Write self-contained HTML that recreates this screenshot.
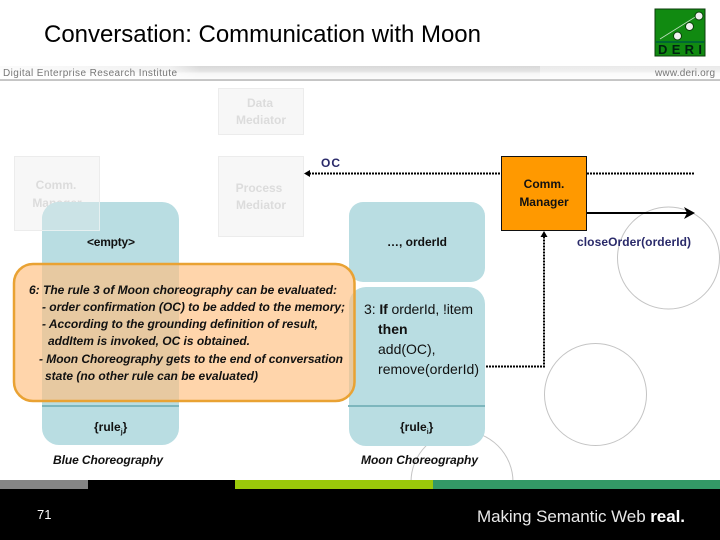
<!DOCTYPE html>
<html><head><meta charset="utf-8"><style>
html,body{margin:0;padding:0;background:#fff}
svg{display:block}
text{font-family:"Liberation Sans",sans-serif}
</style></head><body>
<svg width="720" height="540" viewBox="0 0 720 540" xmlns="http://www.w3.org/2000/svg">
<defs>
<linearGradient id="band" x1="0" y1="0" x2="0" y2="1">
<stop offset="0" stop-color="#d8d8d8"/><stop offset=".35" stop-color="#e4e4e4"/><stop offset=".5" stop-color="#f6f6f6"/><stop offset=".85" stop-color="#fbfbfb"/><stop offset=".93" stop-color="#aaa"/><stop offset="1" stop-color="#ddd"/>
</linearGradient>
<linearGradient id="fadeL" x1="0" y1="0" x2="1" y2="0"><stop offset="0" stop-color="#fff" stop-opacity=".9"/><stop offset=".85" stop-color="#fff" stop-opacity=".6"/><stop offset="1" stop-color="#fff" stop-opacity="0"/></linearGradient>
</defs>
<rect width="720" height="540" fill="#fff"/>
<text x="44" y="42" font-size="24" fill="#000" textLength="437" lengthAdjust="spacing">Conversation: Communication with Moon</text>

<rect x="655" y="9" width="50" height="47" fill="#118a11" stroke="#0b3d0b" stroke-width="1"/>
<path d="M660 39L700 14" stroke="#bfe0bf" stroke-width=".8"/>
<circle cx="677.500" cy="36" r="4" fill="#f2f2f2" stroke="#0a400a"/><circle cx="689.500" cy="26.500" r="4" fill="#f2f2f2" stroke="#0a400a"/><circle cx="699" cy="16" r="4" fill="#f2f2f2" stroke="#0a400a"/>
<rect x="656" y="41" width="48" height="2" fill="#063"/>
<text x="658" y="54" font-size="13" font-weight="bold" fill="#021" textLength="44">DERI</text>

<rect x="0" y="66" width="720" height="15" fill="url(#band)"/>
<rect x="0" y="66" width="200" height="13" fill="url(#fadeL)"/>
<rect x="540" y="66" width="180" height="13" fill="#fff" opacity=".45"/>
<text x="3" y="76" font-size="10" fill="#777" textLength="174">Digital Enterprise Research Institute</text>
<text x="655" y="76" font-size="10" fill="#777" textLength="60">www.deri.org</text>

<g fill="#f7f7f7" stroke="#ececec">
<rect x="218.500" y="88.500" width="85" height="46"/>
<rect x="14.500" y="156.500" width="85" height="74"/>
<rect x="218.500" y="156.500" width="85" height="80"/>
</g>
<g font-size="12" font-weight="bold" fill="#dcdcdc" text-anchor="middle">
<text x="260" y="107">Data</text><text x="261" y="124">Mediator</text>
<text x="56" y="189">Comm.</text><text x="57" y="207">Manager</text>
<text x="259" y="192">Process</text><text x="261" y="209">Mediator</text>
</g>

<circle cx="668.500" cy="258" r="51" fill="none" stroke="#c4c4c4"/>
<circle cx="595.500" cy="394.500" r="51" fill="none" stroke="#c4c4c4"/>
<circle cx="462" cy="482" r="51" fill="none" stroke="#c4c4c4"/>

<rect x="42" y="202" width="137" height="243" rx="17" fill="#b9dde2"/>
<path d="M42 231V219a17 17 0 0 1 17-17H99.500V230.500H42Z" fill="#cbe3e6"/>
<path d="M42 230.500H99.500V202" fill="none" stroke="#e6f0f1"/>
<rect x="349" y="202" width="136" height="80" rx="14" fill="#b9dde2"/>
<rect x="349" y="287" width="136" height="159" rx="17" fill="#b9dde2"/>
<rect x="42" y="405" width="137" height="2" fill="#7db6bd"/>
<rect x="348" y="405" width="137" height="2" fill="#7db6bd"/>

<rect x="14" y="264" width="340.500" height="137" rx="19" fill="#ffc080" fill-opacity=".66" stroke="#e9a233" stroke-width="2.500"/>

<g font-size="12" font-weight="bold" fill="#111">
<text x="87" y="246" textLength="48">&lt;empty&gt;</text>
<text x="387" y="246" textLength="60">…, orderId</text>
<text x="94" y="431">{rule<tspan font-size="7" dy="3">j</tspan><tspan dy="-3">}</tspan></text>
<text x="400" y="431">{rule<tspan font-size="7" dy="3">i</tspan><tspan dy="-3">}</tspan></text>
</g>
<g font-size="12" font-weight="bold" font-style="italic" fill="#111">
<text x="53" y="464" textLength="110">Blue Choreography</text>
<text x="361" y="464" textLength="117">Moon Choreography</text>
<text x="29" y="294" textLength="308">6: The rule 3 of Moon choreography can be evaluated:</text>
<text x="42" y="311" textLength="303">- order confirmation (OC) to be added to the memory;</text>
<text x="42" y="328" textLength="276">- According to the grounding definition of result,</text>
<text x="48" y="345" textLength="202">addItem is invoked, OC is obtained.</text>
<text x="39" y="363" textLength="304">- Moon Choreography gets to the end of conversation</text>
<text x="45" y="380" textLength="213">state (no other rule can be evaluated)</text>
</g>
<g font-size="14" fill="#111">
<text x="364" y="314" textLength="109">3: <tspan font-weight="bold">If</tspan> orderId, !item</text>
<text x="378" y="334" font-weight="bold">then</text>
<text x="378" y="354">add(OC),</text>
<text x="378" y="374" textLength="101">remove(orderId)</text>
</g>

<rect x="501.500" y="156.500" width="85" height="74" fill="#ff9900" stroke="#111" stroke-width="1"/>
<g font-size="12" font-weight="bold" fill="#111" text-anchor="middle">
<text x="544" y="188">Comm.</text><text x="544" y="206">Manager</text>
</g>

<g fill="none" stroke="#000" stroke-width="2" stroke-dasharray="2 1">
<path d="M309 173.500H501"/><path d="M587 173.500H695"/>
<path d="M486 366.500H544V236"/>
</g>
<path d="M304 173.500l6-3.500v7z" fill="#000"/>
<path d="M544 231l-3.500 6h7z" fill="#000"/>
<path d="M587 213H693" stroke="#000" stroke-width="2"/>
<path d="M695 213L684 207L687 213L684 219Z" fill="#000"/>
<text x="321" y="167" font-size="12" font-weight="bold" fill="#2a2a6a" textLength="19">OC</text>
<text x="577" y="246" font-size="12" font-weight="bold" fill="#2a2a6a" textLength="114">closeOrder(orderId)</text>

<rect x="0" y="489" width="720" height="51" fill="#000"/>
<rect x="0" y="480" width="88" height="9" fill="#858585"/>
<rect x="88" y="480" width="147" height="9" fill="#000"/>
<rect x="235" y="480" width="198" height="9" fill="#9bc90a"/>
<rect x="433" y="480" width="287" height="9" fill="#339966"/>
<text x="37" y="519" font-size="13" fill="#fff">71</text>
<text x="477" y="522" font-size="17" fill="#e8e8e8" textLength="208">Making Semantic Web <tspan font-weight="bold" fill="#fff">real.</tspan></text>
</svg>
</body></html>
